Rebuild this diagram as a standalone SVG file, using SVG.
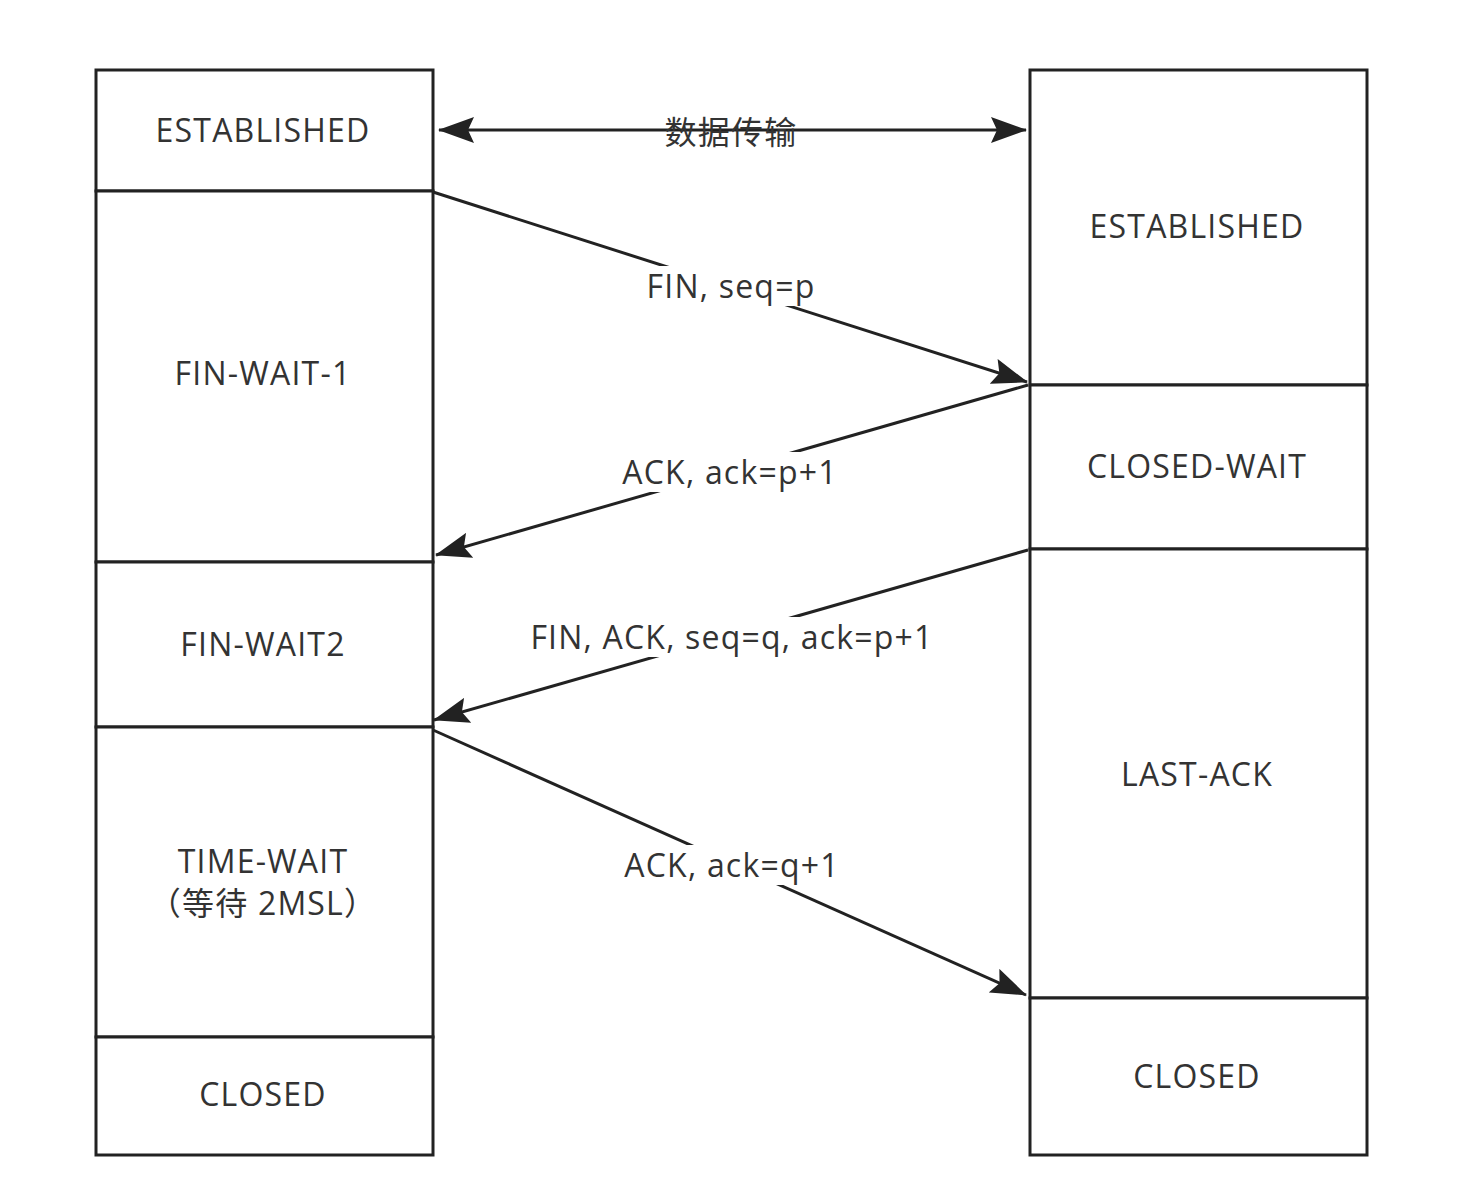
<svg xmlns="http://www.w3.org/2000/svg" width="1464" height="1198" viewBox="0 0 1464 1198">
<defs>
<style>
.b{fill:#fff;stroke:#222;stroke-width:3}
.t{font-family:"Open Sans","Noto Sans CJK SC",sans-serif;font-size:32px;letter-spacing:1.2px;fill:#333;text-anchor:middle}
.c{stroke:#222;stroke-width:3;fill:none}
.lb{fill:#fff}
</style>
<marker id="a" viewBox="0 0 36 26" refX="35" refY="13" markerWidth="36" markerHeight="26" markerUnits="userSpaceOnUse" orient="auto-start-reverse"><path d="M0,0 L36,13 L0,26 L6,13 Z" fill="#222"/></marker>
</defs>
<rect width="1464" height="1198" fill="#fff"/>
<g id="left">
<g id="l1"><rect class="b" x="96" y="70" width="337" height="121"/><text class="t" x="263" y="142">ESTABLISHED</text></g>
<g id="l2"><rect class="b" x="96" y="191" width="337" height="371"/><text class="t" x="263" y="385">FIN-WAIT-1</text></g>
<g id="l3"><rect class="b" x="96" y="562" width="337" height="165"/><text class="t" x="263" y="656">FIN-WAIT2</text></g>
<g id="l4"><rect class="b" x="96" y="727" width="337" height="310"/><text class="t" x="263" y="873">TIME-WAIT</text><text class="t" x="263" y="915">（等待 2MSL）</text></g>
<g id="l5"><rect class="b" x="96" y="1037" width="337" height="118"/><text class="t" x="263" y="1106">CLOSED</text></g>
</g>
<g id="right">
<g id="r1"><rect class="b" x="1030" y="70" width="337" height="315"/><text class="t" x="1197" y="238">ESTABLISHED</text></g>
<g id="r2"><rect class="b" x="1030" y="385" width="337" height="164"/><text class="t" x="1197" y="478">CLOSED-WAIT</text></g>
<g id="r3"><rect class="b" x="1030" y="549" width="337" height="449"/><text class="t" x="1197" y="786">LAST-ACK</text></g>
<g id="r4"><rect class="b" x="1030" y="998" width="337" height="157"/><text class="t" x="1197" y="1088">CLOSED</text></g>
</g>
<g id="connectors">
<line class="c" x1="439" y1="130" x2="1026" y2="130" marker-start="url(#a)" marker-end="url(#a)"/>
<text class="t" x="731" y="144">数据传输</text>
<line class="c" x1="433" y1="192" x2="1027" y2="382" marker-end="url(#a)"/>
<rect class="lb" x="640" y="266" width="180" height="40"/><text class="t" x="731" y="298">FIN, seq=p</text>
<line class="c" x1="1028" y1="385" x2="436" y2="555" marker-end="url(#a)"/>
<rect class="lb" x="612" y="452" width="236" height="40"/><text class="t" x="730" y="484">ACK, ack=p+1</text>
<line class="c" x1="1028" y1="550" x2="434" y2="720" marker-end="url(#a)"/>
<rect class="lb" x="517" y="617" width="430" height="40"/><text class="t" x="732" y="649">FIN, ACK, seq=q, ack=p+1</text>
<line class="c" x1="433" y1="730" x2="1026" y2="995" marker-end="url(#a)"/>
<rect class="lb" x="614" y="845" width="236" height="40"/><text class="t" x="732" y="877">ACK, ack=q+1</text>
</g>
</svg>
